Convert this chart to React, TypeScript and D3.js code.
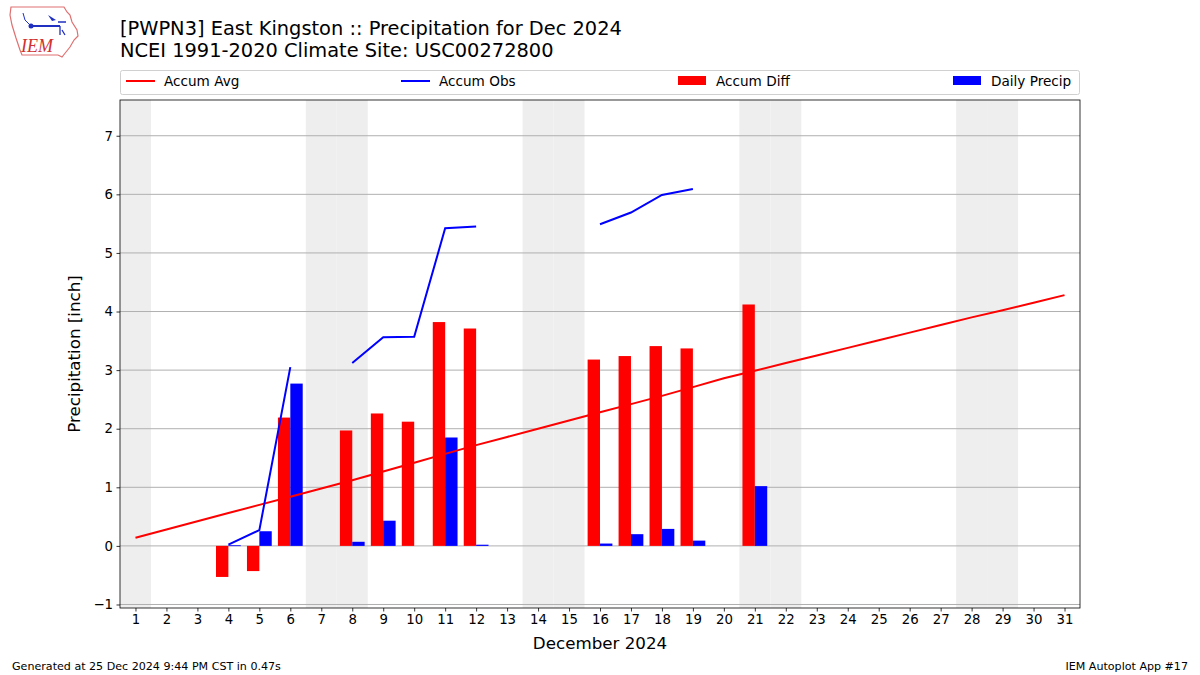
import * as d3 from 'd3';
import React, { useEffect, useRef } from 'react';

const days = d3.range(1, 32);
const weekends = [1, 7, 8, 14, 15, 21, 22, 28, 29];
const yTicks = [-1, 0, 1, 2, 3, 4, 5, 6, 7];

// climatology accumulation (inch)
const accumAvg = [0.14, 0.28, 0.42, 0.56, 0.70, 0.84, 0.98, 1.12, 1.27, 1.42, 1.57, 1.72, 1.86, 2.00, 2.14, 2.28,
  2.42, 2.56, 2.71, 2.86, 2.99, 3.12, 3.25, 3.38, 3.51, 3.64, 3.77, 3.90, 4.02, 4.15, 4.28];
// observed accumulation, null = missing
const accumObs = [null, null, null, 0.02, 0.27, 3.05, null, 3.12, 3.56, 3.57, 5.42, 5.45, null, null, null, 5.49,
  5.69, 5.99, 6.09, null, 7.11, null, null, null, null, null, null, null, null, null, null];
const accumDiff = [null, null, null, -0.53, -0.43, 2.19, null, 1.97, 2.26, 2.12, 3.82, 3.71, null, null, null, 3.18,
  3.24, 3.41, 3.37, null, 4.12, null, null, null, null, null, null, null, null, null, null];
const dailyPrecip = [null, null, null, 0.01, 0.25, 2.77, null, 0.07, 0.43, 0.0, 1.85, 0.02, null, null, null, 0.04,
  0.20, 0.29, 0.09, null, 1.02, null, null, null, null, null, null, null, null, null, null];

const legendItems = [
  { label: 'Accum Avg', color: 'red', kind: 'line', x: 126 },
  { label: 'Accum Obs', color: 'blue', kind: 'line', x: 401 },
  { label: 'Accum Diff', color: 'red', kind: 'bar', x: 678 },
  { label: 'Daily Precip', color: 'blue', kind: 'bar', x: 953 },
];

const App = () => {
  const ref = useRef<SVGSVGElement>(null);

  useEffect(() => {
    const svg = d3.select(ref.current);
    svg.selectAll('*').remove();
    const font = 'DejaVu Sans, sans-serif';
    const margin = { left: 120, right: 1080, top: 100, bottom: 608 };

    const x = d3.scaleLinear().domain([0.5, 31.5]).range([margin.left, margin.right]);
    const y = d3.scaleLinear().domain([-1.06, 7.61]).range([margin.bottom, margin.top]);

    const g = svg.append('g');

    // weekend shading
    g.selectAll('.wk').data(weekends).enter().append('rect')
      .attr('x', (d: any) => x(d - 0.5)).attr('width', x(1.5) - x(0.5))
      .attr('y', margin.top).attr('height', margin.bottom - margin.top)
      .attr('fill', '#eeeeee');

    // grid
    g.selectAll('.grid').data(yTicks).enter().append('line')
      .attr('x1', margin.left).attr('x2', margin.right)
      .attr('y1', (d: any) => y(d)).attr('y2', (d: any) => y(d))
      .attr('stroke', '#b0b0b0').attr('stroke-width', 1);

    const bw = 0.4;
    // accum diff bars
    g.selectAll('.diff').data(days.filter((d) => accumDiff[d - 1] !== null)).enter().append('rect')
      .attr('x', (d: any) => x(d - bw)).attr('width', x(bw) - x(0))
      .attr('y', (d: any) => y(Math.max(0, accumDiff[d - 1] as number)))
      .attr('height', (d: any) => Math.abs(y(accumDiff[d - 1] as number) - y(0)))
      .attr('fill', 'red');
    // daily precip bars
    g.selectAll('.daily').data(days.filter((d) => (dailyPrecip[d - 1] as number) > 0)).enter().append('rect')
      .attr('x', (d: any) => x(d)).attr('width', x(bw) - x(0))
      .attr('y', (d: any) => y(dailyPrecip[d - 1] as number))
      .attr('height', (d: any) => Math.max(y(0) - y(dailyPrecip[d - 1] as number), 0.8))
      .attr('fill', 'blue');

    const line = d3.line<number>()
      .defined((d) => d !== null)
      .x((_, i) => x(i + 1))
      .y((d) => y(d));
    g.append('path').attr('d', line(accumAvg as any) as string)
      .attr('fill', 'none').attr('stroke', 'red').attr('stroke-width', 2);
    g.append('path').attr('d', line(accumObs as any) as string)
      .attr('fill', 'none').attr('stroke', 'blue').attr('stroke-width', 2);

    // frame
    g.append('rect').attr('x', margin.left).attr('y', margin.top)
      .attr('width', margin.right - margin.left).attr('height', margin.bottom - margin.top)
      .attr('fill', 'none').attr('stroke', 'black').attr('stroke-width', 0.8);

    // axes
    const xAxis = d3.axisBottom(x).tickValues(days).tickFormat(d3.format('d')).tickSizeOuter(0).tickSize(3.5).tickPadding(3.5);
    const xa = svg.append('g').attr('transform', `translate(0,${margin.bottom})`).call(xAxis);
    const yAxis = d3.axisLeft(y).tickValues(yTicks).tickFormat((d: any) => (d < 0 ? '\u2212' + Math.abs(d) : String(d))).tickSizeOuter(0).tickSize(3.5).tickPadding(3.5);
    const ya = svg.append('g').attr('transform', `translate(${margin.left},0)`).call(yAxis);
    [xa, ya].forEach((a) => {
      a.select('.domain').remove();
      a.selectAll('text').attr('font-family', font).attr('font-size', 13.3).attr('fill', 'black');
      a.selectAll('line').attr('stroke', 'black').attr('stroke-width', 0.8);
    });

    svg.append('text').attr('x', 600).attr('y', 649).attr('text-anchor', 'middle')
      .attr('font-family', font).attr('font-size', 16.7).text('December 2024');
    svg.append('text').attr('transform', 'translate(80,354) rotate(-90)').attr('text-anchor', 'middle')
      .attr('font-family', font).attr('font-size', 16.7).text('Precipitation [inch]');

    // titles
    svg.append('text').attr('x', 120).attr('y', 35).attr('font-family', font).attr('font-size', 19.4)
      .text('[PWPN3] East Kingston :: Precipitation for Dec 2024');
    svg.append('text').attr('x', 120).attr('y', 57).attr('font-family', font).attr('font-size', 19.4)
      .text('NCEI 1991-2020 Climate Site: USC00272800');

    // legend
    svg.append('rect').attr('x', 120.5).attr('y', 70.5).attr('width', 959).attr('height', 24).attr('rx', 2)
      .attr('fill', 'white').attr('stroke', '#d0d0d0');
    const lg = svg.selectAll('.lg').data(legendItems).enter().append('g');
    lg.filter((d: any) => d.kind === 'line').append('line')
      .attr('x1', (d: any) => d.x).attr('x2', (d: any) => d.x + 29).attr('y1', 81).attr('y2', 81)
      .attr('stroke', (d: any) => d.color).attr('stroke-width', 2);
    lg.filter((d: any) => d.kind === 'bar').append('rect')
      .attr('x', (d: any) => d.x).attr('width', 28).attr('y', 76).attr('height', 9)
      .attr('fill', (d: any) => d.color);
    lg.append('text').attr('x', (d: any) => d.x + 38).attr('y', 86).attr('font-family', font).attr('font-size', 13.6)
      .text((d: any) => d.label);

    // footer
    svg.append('text').attr('x', 12).attr('y', 670).attr('font-family', font).attr('font-size', 11.1)
      .text('Generated at 25 Dec 2024 9:44 PM CST in 0.47s');
    svg.append('text').attr('x', 1188).attr('y', 670).attr('text-anchor', 'end').attr('font-family', font).attr('font-size', 11.1)
      .text('IEM Autoplot App #17');

    // logo
    const logo = svg.append('g');
    logo.append('path')
      .attr('d', 'M11,7 L64,7 L67,12 L70,15 L72,22 L77,30 L78,36 L74,40 L70,47 L66,52 L62,57 L58,55 L22,55 L20,50 L16,38 L12,25 L10,15 Z')
      .attr('fill', 'white').attr('stroke', '#e07070').attr('stroke-width', 1.2);
    logo.append('line').attr('x1', 30).attr('y1', 26).attr('x2', 60).attr('y2', 26).attr('stroke', '#2030c0').attr('stroke-width', 2);
    logo.append('circle').attr('cx', 31).attr('cy', 26).attr('r', 2.5).attr('fill', '#2030c0');
    logo.append('path').attr('d', 'M48,15 L56,20 L52,21 Z').attr('fill', '#2030c0');
    logo.append('path').attr('d', 'M23,13 L25,20 L30,25').attr('fill', 'none').attr('stroke', '#2030c0').attr('stroke-width', 1);
    logo.append('path').attr('d', 'M58,22 L66,22 M60,26 L60,35 M62,30 L65,35').attr('fill', 'none').attr('stroke', '#2030c0').attr('stroke-width', 1.3);
    logo.append('text').attr('x', 21).attr('y', 52).attr('font-family', 'Liberation Serif, serif').attr('font-style', 'italic')
      .attr('font-size', 18).attr('fill', '#d03030').text('IEM');
  }, []);

  return (
    <svg ref={ref} width={1200} height={675} style={{ position: 'absolute', left: 0, top: 0, background: 'white' }} />
  );
};

export default App;
